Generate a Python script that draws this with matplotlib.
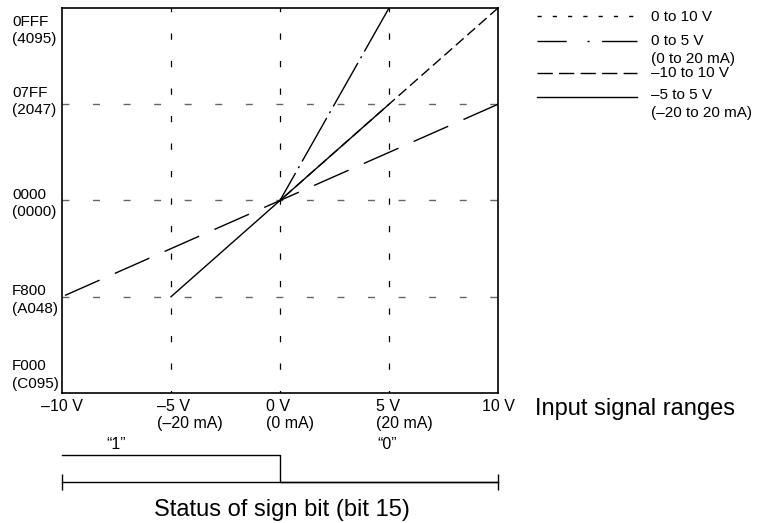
import matplotlib
matplotlib.use("Agg")
import matplotlib.pyplot as plt
from matplotlib.lines import Line2D
from matplotlib.transforms import ScaledTranslation

plt.rcParams["font.family"] = ["Liberation Sans", "DejaVu Sans"]

# data
x_ticks = [-10, -5, 0, 5, 10]
x_labels = ["\u201310 V", "\u20135 V\n(\u201320 mA)", "0 V\n(0 mA)", "5 V\n(20 mA)", "10 V"]
y_ticks = [4095, 2047, 0, -2048, -4096]
y_labels = ["0FFF\n(4095)", "07FF\n(2047)", "0000\n(0000)", "F800\n(A048)", "F000\n(C095)"]

# each range listed from its top end so the dash pattern starts there
v_0_10_x = [10, 0]
v_0_10_y = [4095, 0]
v_0_5_x = [5, 0]
v_0_5_y = [4095, 0]
v_m10_10_x = [10, -10]
v_m10_10_y = [2047, -2048]
v_m5_5_x = [5, -5]
v_m5_5_y = [2047, -2048]

bit_x = [-10, 0, 10]
bit_y = [1, 0, 0]
bit_names = ["\u201c1\u201d", "\u201c0\u201d"]
bit_label_x = [-7.5, 4.9]

legend_labels = ["0 to 10 V", "0 to 5 V\n(0 to 20 mA)", "\u201310 to 10 V", "\u20135 to 5 V\n(\u201320 to 20 mA)"]

W, H = 760, 523
fig = plt.figure(figsize=(W / 100, H / 100), dpi=100)
ax = fig.add_axes([62 / W, 1 - 393 / H, 436 / W, 385 / H])
ax.set_xlim(-10, 10)
ax.set_ylim(-4096, 4095)

# grid
for yv in [2047, 0, -2048]:
    ax.axhline(yv, color="#666666", lw=1.0, linestyle=(0, (5, 17)), zorder=1)
for xv in [-5, 0, 5]:
    ax.axvline(xv, color="black", lw=0.9, linestyle=(3, (5, 17)), zorder=1)

lw = 1.0
ax.plot(v_0_10_x, v_0_10_y, color="black", lw=lw, linestyle=(0, (7.5, 3.5)))
ax.plot(v_0_5_x, v_0_5_y, color="black", lw=lw, linestyle=(0, (36, 4, 1.5, 4)))
ax.plot(v_m10_10_x, v_m10_10_y, color="black", lw=lw, linestyle=(0, (27.2, 12)))
ax.plot(v_m5_5_x, v_m5_5_y, color="black", lw=lw)

for s in ax.spines.values():
    s.set_linewidth(1.2)

ax.set_xticks(x_ticks)
ax.set_xticklabels(x_labels, fontsize=11.5, linespacing=1.2)
ax.set_yticks(y_ticks)
ax.set_yticklabels(y_labels, fontsize=11, linespacing=1.3)
ax.tick_params(length=0)
ax.tick_params(axis="y", pad=36)
ax.tick_params(axis="x", pad=4)

for lab in ax.get_yticklabels():
    lab.set_ha("left")
ylabs = ax.get_yticklabels()
ylabs[0].set_transform(ylabs[0].get_transform() + ScaledTranslation(0, -0.19, fig.dpi_scale_trans))
ylabs[1].set_transform(ylabs[1].get_transform() + ScaledTranslation(0, 0.06, fig.dpi_scale_trans))
ylabs[-1].set_transform(ylabs[-1].get_transform() + ScaledTranslation(0, 0.21, fig.dpi_scale_trans))

xlabs = ax.get_xticklabels()
for i, lab in enumerate(xlabs):
    if 0 < i < len(xlabs) - 1:
        lab.set_ha("left")
        lab.set_multialignment("left")
        lab.set_transform(lab.get_transform() + ScaledTranslation(-0.135, 0, fig.dpi_scale_trans))

fig.text(535 / W, 1 - 409 / H, "Input signal ranges", fontsize=17, va="center", ha="left")

# legend drawn by hand
leg_styles = [(0, (3, 8)), (0, (21, 15, 1.5, 9, 28)), (0, (11, 4.5)), "-"]
leg_line_y = [16, 41, 73, 97]
leg_text_y = [17, 50, 73, 104]
for st, ly, ty, lab in zip(leg_styles, leg_line_y, leg_text_y, legend_labels):
    fig.add_artist(Line2D([537 / W, 637 / W], [1 - ly / H, 1 - ly / H], color="black", lw=1.0,
                          linestyle=st, transform=fig.transFigure))
    fig.text(651 / W, 1 - ty / H, lab, fontsize=11, va="center", ha="left", linespacing=1.3)

# sign bit
ax2 = fig.add_axes([62 / W, 1 - 482 / H, 436 / W, 27 / H])
ax2.set_xlim(-10, 10)
ax2.set_ylim(0, 1)
ax2.axis("off")
ax2.step(bit_x, bit_y, where="post", color="black", lw=1.0, clip_on=False)
ax2.plot([bit_x[0], bit_x[-1]], [0, 0], color="black", lw=1.0, marker="|", markersize=11, clip_on=False)
for bx, name in zip(bit_label_x, bit_names):
    ax2.text(bx, 1, name, fontsize=11.5, ha="center", va="bottom",
             transform=ax2.transData + ScaledTranslation(0, 0.03, fig.dpi_scale_trans))
fig.text(282 / W, 1 - 510 / H, "Status of sign bit (bit 15)", fontsize=17, ha="center", va="center")

fig.savefig("out.png", dpi=100)
